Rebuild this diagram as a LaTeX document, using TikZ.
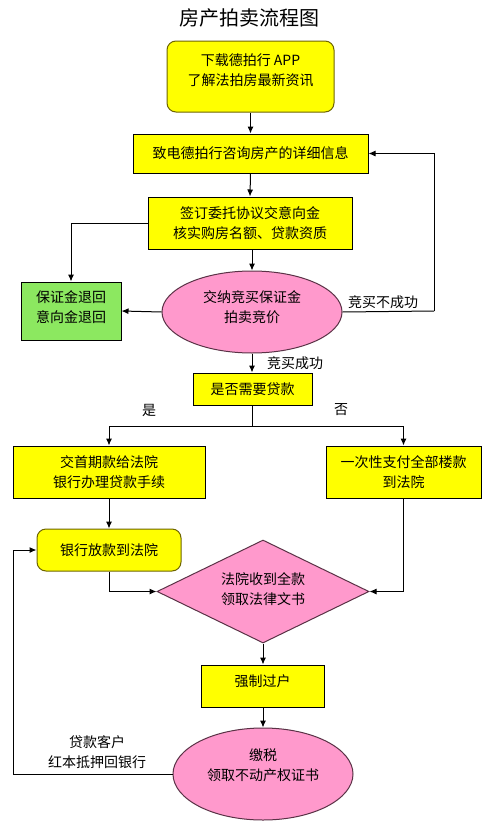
\documentclass[tikz,border=0pt]{standalone}
\usepackage{fontspec}
\setmainfont{Noto Sans CJK SC}
\usetikzlibrary{shapes.geometric,arrows.meta}
\definecolor{ybox}{RGB}{255,255,0}
\definecolor{gbox}{RGB}{140,232,96}
\definecolor{pbox}{RGB}{255,153,204}
\definecolor{olivebd}{RGB}{110,100,0}
\definecolor{pinkbd}{RGB}{90,50,70}
\tikzset{
  txt/.style={font=\fontsize{14}{20}\selectfont, align=center, inner sep=0pt},
  rbox/.style={draw=black, line width=1pt, fill=ybox, inner sep=0pt, txt},
  roundbox/.style={draw=olivebd, line width=1pt, fill=ybox, rounded corners=9pt, inner sep=0pt, txt},
  gbx/.style={draw=black, line width=1pt, fill=gbox, inner sep=0pt, txt},
  ell/.style={ellipse, draw=pinkbd, line width=1pt, fill=pbox, inner sep=0pt, txt},
  dia/.style={diamond, draw=pinkbd, line width=1pt, fill=pbox, inner sep=0pt, txt},
  conn/.style={draw=black, line width=1pt},
  arr/.style={conn, -{Latex[length=7pt,width=6pt]}},
  lbl/.style={txt}
}
\begin{document}
\begin{tikzpicture}[x=1pt,y=-1pt]
\useasboundingbox (0,0) rectangle (492,825);
\fill[white] (0,0) rectangle (492,825);

\node[font=\fontsize{20}{24}\selectfont, inner sep=0pt] (title) at (249,18) {房产拍卖流程图};

\node[roundbox, minimum width=167pt, minimum height=71pt] (b1) at (250.5,76.5) {};
\node[txt] (b1t) at (250.5,70) {下载德拍行 APP\\了解法拍房最新资讯};

\node[rbox, minimum width=235pt, minimum height=39pt] (b2) at (250.5,153.5) {致电德拍行咨询房产的详细信息};
\node[rbox, minimum width=204pt, minimum height=52pt] (b3) at (250,223) {签订委托协议交意向金\\核实购房名额、贷款资质};

\node[gbx, minimum width=100pt, minimum height=58pt] (g) at (71,311) {};
\node[txt] (gt) at (71,307.5) {保证金退回\\意向金退回};

\node[ell, minimum width=180pt, minimum height=82pt] (e1) at (252,312) {};
\node[txt] (e1t) at (252,307.5) {交纳竞买保证金\\拍卖竞价};

\node[rbox, minimum width=119pt, minimum height=32pt] (b4) at (252.5,389) {是否需要贷款};

\node[rbox, minimum width=192pt, minimum height=52pt] (b5) at (109,472) {交首期款给法院\\银行办理贷款手续};
\node[rbox, minimum width=155pt, minimum height=52pt] (b6) at (403.5,472) {一次性支付全部楼款\\到法院};

\node[roundbox, minimum width=144pt, minimum height=42pt] (b7) at (109,550) {银行放款到法院};

\node[dia, minimum width=212pt, minimum height=103pt] (d) at (263,591.5) {};
\node[txt] (dt) at (263,589) {法院收到全款\\领取法律文书};

\node[rbox, minimum width=123pt, minimum height=42pt] (b8) at (262.5,686) {};
\node[txt] (b8t) at (262.5,681) {强制过户};

\node[ell, minimum width=180pt, minimum height=92pt] (e2) at (263,774) {};
\node[txt] (e2t) at (263,765) {缴税\\领取不动产权证书};

% labels
\node[lbl] (l1) at (383,302) {竞买不成功};
\node[lbl] (l2) at (295,363) {竞买成功};
\node[lbl] (l3) at (149,410) {是};
\node[lbl] (l4) at (341,410) {否};
\node[lbl] (l5) at (97,752) {贷款客户\\红本抵押回银行};

% coordinates
\coordinate (split) at (252.5,426);
\coordinate (rloop) at (434,311);
\coordinate (lloop) at (13,774);

% connectors
\draw[arr] (b1.south) -- (b2.north);
\draw[arr] (b2.south) -- (b3.north);
\draw[arr] (b3.west) -| (g.north);
\draw[arr] (b3.south -| e1.north) -- (e1.north);
\draw[arr] (e1.west) -- (g.east);
\draw[conn] (e1.east) -- (rloop);
\draw[arr] (rloop) |- (b2.east);
\draw[arr] (e1.south) -- (b4.north -| e1.south);
\draw[conn] (b4.south) -- (split);
\draw[arr] (split) -| (b5.north);
\draw[arr] (split) -| (b6.north);
\draw[arr] (b5.south) -- (b7.north);
\draw[arr] (b7.south) |- (d.west);
\draw[arr] (b6.south) |- (d.east);
\draw[arr] (d.south) -- (b8.north -| d.south);
\draw[arr] (b8.south -| e2.north) -- (e2.north);
\draw[conn] (e2.west) -- (lloop);
\draw[arr] (lloop) |- (b7.west);
\end{tikzpicture}
\end{document}
